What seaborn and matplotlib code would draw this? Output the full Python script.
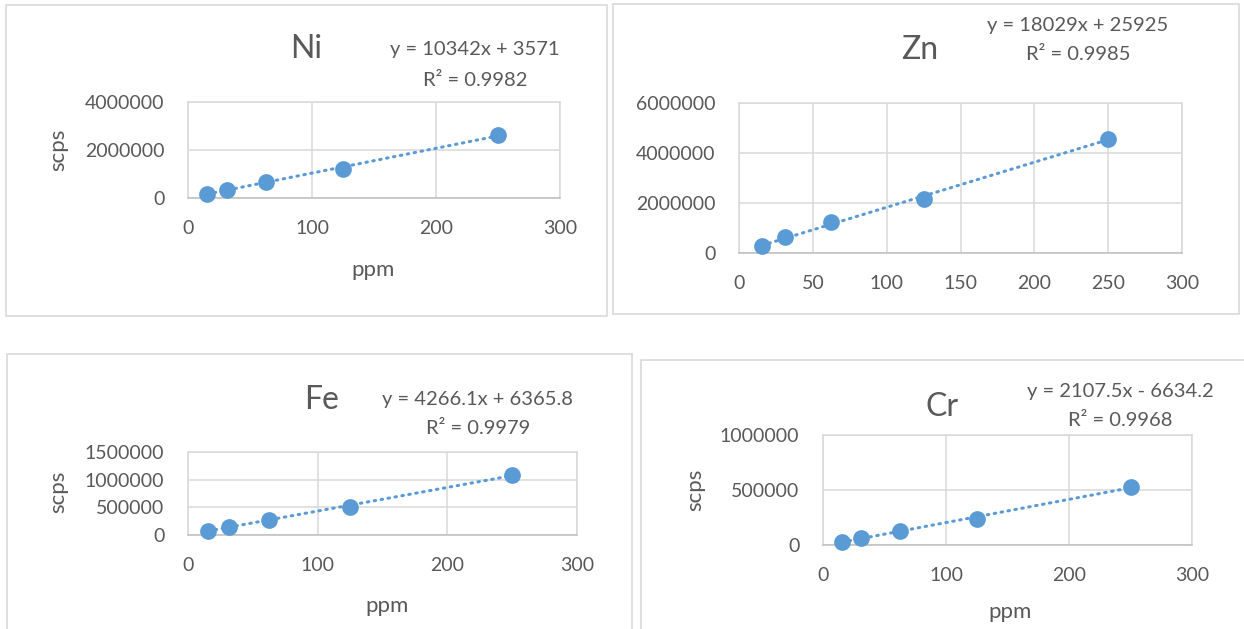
import numpy as np
import pandas as pd
import matplotlib
matplotlib.use('Agg')
import matplotlib.pyplot as plt
from matplotlib.patches import Rectangle
from matplotlib.ticker import FuncFormatter
import seaborn as sns

# concentracoes (ppm) e sinais (scps)
ppm = [15.625, 31.25, 62.5, 125, 250]
ni_scps = [170000, 340000, 670000, 1220000, 2610000]
zn_scps = [290000, 650000, 1230000, 2170000, 4560000]
fe_scps = [66000, 146000, 267000, 505000, 1079000]
cr_scps = [31000, 63000, 130000, 238000, 530000]

# equacoes das linhas de tendencia mostradas
elementos = ['Ni', 'Zn', 'Fe', 'Cr']
inclinacao = [10342, 18029, 4266.1, 2107.5]
intercepto = [3571, 25925, 6365.8, -6634.2]
r2 = ['0.9982', '0.9985', '0.9979', '0.9968']
eq_txt = ['y = 10342x + 3571', 'y = 18029x + 25925',
          'y = 4266.1x + 6365.8', 'y = 2107.5x - 6634.2']

W, H = 1244, 629
sns.set_theme(style='white')
plt.rcParams['font.family'] = ['Lato', 'DejaVu Sans']
cinza = '#595959'
azul = '#5B9BD5'

fig = plt.figure(figsize=(W / 100, H / 100), dpi=100)
fig.patch.set_facecolor('white')


def px_box(l, t, r, b):
    return [l / W, 1 - b / H, (r - l) / W, (b - t) / H]


# molduras dos graficos (estilo Excel)
molduras = [(6, 5, 607, 316), (613, 4, 1239, 314), (7, 354, 632, 645), (641, 360, 1260, 645)]
for l, t, r, b in molduras:
    fig.patches.append(Rectangle((l / W, 1 - b / H), (r - l) / W, (b - t) / H,
                                 transform=fig.transFigure, fill=False,
                                 edgecolor='#d9d9d9', linewidth=1.2))

# posicoes (px): area de plotagem, titulo, equacao, rotulos
cfg = {
    'Ni': dict(box=(188, 102, 560, 198), ylim=(0, 4000000), yt=[0, 2000000, 4000000],
               xt=[0, 100, 200, 300], tit=(306, 49), eq=(475, 50), lab=True,
               xl=(373, 270), yl=(58, 150)),
    'Zn': dict(box=(739, 103, 1182, 253), ylim=(0, 6000000), yt=[0, 2000000, 4000000, 6000000],
               xt=[0, 50, 100, 150, 200, 250, 300], tit=(920, 50), eq=(1078, 25), lab=False),
    'Fe': dict(box=(188, 452, 577, 535), ylim=(0, 1500000), yt=[0, 500000, 1000000, 1500000],
               xt=[0, 100, 200, 300], tit=(322, 400), eq=(478, 399), lab=True,
               xl=(387, 606), yl=(58, 492)),
    'Cr': dict(box=(823, 435, 1192, 545), ylim=(0, 1000000), yt=[0, 500000, 1000000],
               xt=[0, 100, 200, 300], tit=(942, 407), eq=(1120, 391), lab=True,
               xl=(1010, 612), yl=(695, 490)),
}
sinais = [ni_scps, zn_scps, fe_scps, cr_scps]

for i, el in enumerate(elementos):
    c = cfg[el]
    ax = fig.add_axes(px_box(*c['box']))
    df = pd.DataFrame({'ppm': ppm, 'scps': sinais[i]})

    # linha de tendencia pontilhada
    xs = np.array([min(ppm), max(ppm)])
    ys = inclinacao[i] * xs + intercepto[i]
    ax.plot(xs, ys, color=azul, linewidth=2.2, linestyle=(0, (0.5, 1.8)),
            dash_capstyle='round', zorder=2)
    sns.scatterplot(data=df, x='ppm', y='scps', ax=ax, color=azul, s=145,
                    edgecolor=azul, linewidth=0, zorder=3, clip_on=False)

    ax.set_xlim(0, 300)
    ax.set_ylim(*c['ylim'])
    ax.set_xticks(c['xt'])
    ax.set_yticks(c['yt'])
    ax.yaxis.set_major_formatter(FuncFormatter(lambda v, p: f'{int(round(v))}'))
    ax.grid(True, color='#d9d9d9', linewidth=1.1)
    ax.set_axisbelow(True)
    for s in ax.spines.values():
        s.set_color('#d9d9d9')
        s.set_linewidth(1.1)
    ax.spines['bottom'].set_color('#bfbfbf')
    ax.tick_params(axis='both', length=0, labelsize=14, labelcolor=cinza)
    ax.tick_params(axis='x', pad=16)
    ax.tick_params(axis='y', pad=17)
    ax.set_xlabel('')
    ax.set_ylabel('')

    fig.text(c['tit'][0] / W, 1 - c['tit'][1] / H, el, fontsize=23, color=cinza,
             ha='center', va='center')
    fig.text(c['eq'][0] / W, 1 - c['eq'][1] / H, eq_txt[i], fontsize=14.5, color=cinza,
             ha='center', va='center')
    fig.text(c['eq'][0] / W, 1 - (c['eq'][1] + 30) / H, 'R² = ' + r2[i], fontsize=14.5,
             color=cinza, ha='center', va='center')
    if c['lab']:
        fig.text(c['xl'][0] / W, 1 - c['xl'][1] / H, 'ppm', fontsize=16, color=cinza,
                 ha='center', va='center')
        fig.text(c['yl'][0] / W, 1 - c['yl'][1] / H, 'scps', fontsize=16, color=cinza,
                 ha='center', va='center', rotation=90)

fig.savefig('out.png', dpi=100, facecolor='white')
